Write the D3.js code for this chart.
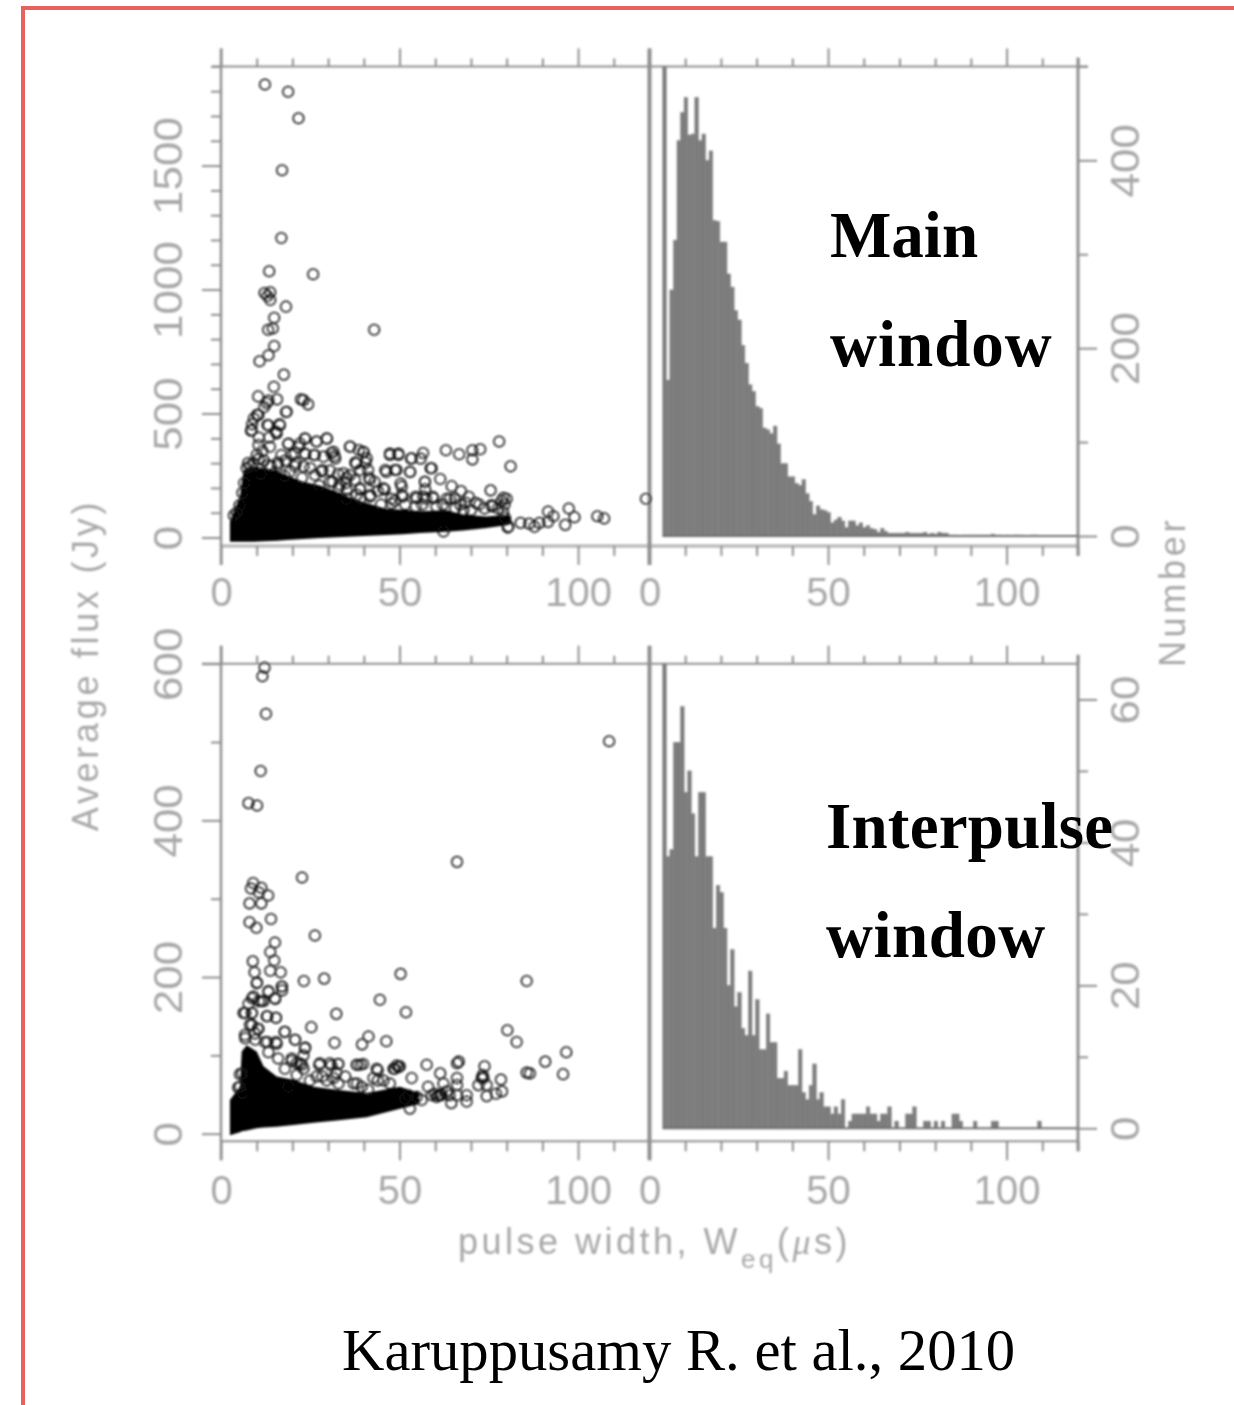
<!DOCTYPE html>
<html>
<head>
<meta charset="utf-8">
<script src="https://cdn.jsdelivr.net/npm/d3@7"></script>
<style>
html, body { margin: 0; padding: 0; background: #fff; }
svg { display: block; }
</style>
</head>
<body>
<svg id="chart" width="1234" height="1405"></svg>
<script>
// counts per 1 us bin, first bin starts at 3.7 us, first bar runs off the top
var binStart = 3.7;
var mainCounts = [500,166,262,315,421,451,467,427,428,467,421,428,400,410,336,335,313,313,279,265,240,230,203,184,161,154,138,136,115,113,109,117,98,77,77,63,63,56,54,60,45,37,23,32,28,27,25,14,17,20,16,9,16,16,11,14,9,11,8,7,4,8,5,3,3,3,3,3,4,3,3,3,3,4,2,3,2,4,3,3,1,1,1,0,1,1,1,1,1,1,1,1,2,1,1,0,1,0,1,1,1,0,0,1,1];
var interCounts = [65,38,39,54,54,59,47,50,44,38,47,47,38,38,28,34,33,28,20,25,17,19,14,13,22,13,18,11,11,16,12,12,7,7,8,6,6,6,11,5,4,6,9,4,5,3,3,2,3,2,4,0,1,2,2,2,2,3,2,2,1,2,2,3,0,1,0,0,2,2,3,0,0,1,1,0,1,0,1,0,0,2,2,1,0,0,0,1,0,0,0,0,1,1,0,0,0,0,0,0,0,0,0,0,0,1];

// solid part of the scatter where single rings cannot be told apart: [width, top, bottom]
var mainCore = [[2.5,64,-17],[5.3,165,-17],[6.3,270,-17],[9.1,285,-17],[12,280,-15],[15.6,268,-13],[18.4,250,-10],[23,225,-6],[27.7,210,-2],[32.4,185,1],[37,155,4],[41.7,135,7],[46.4,115,10],[51,112,13],[55.7,106,18],[63.2,110,23],[67.8,92,28],[74.4,85,38],[80.4,92,50],[81.4,70,60]];
var interCore = [[2.5,43,-2],[5.3,60,2],[5.8,105,3],[7.2,113,4],[10,105,7],[11.9,86,8],[15.6,73,9],[20.3,69,11],[25.9,60,14],[32.4,56,17],[40.8,52,21],[50.1,60,32],[55.5,52,38]];

// single pulses: [width us, flux Jy]
var mainPulses = [[12.3,1827],[18.8,1798],[21.7,1691],[17.1,1481],[16.9,1208],[13.5,1074],[25.8,1062],[12.2,986],[13.8,989],[13,974],[13.8,958],[18.2,931],[14.9,886],[13.2,838],[14.5,843],[42.9,838],[14.9,772],[13.3,735],[10.8,711],[17.6,657],[14.8,608],[10.4,569],[13.3,552],[12.1,526],[15.7,557],[12.8,542],[22.4,557],[23.1,554],[24.4,537],[18.2,506],[10.1,495],[9.2,480],[8.7,457],[8.4,431],[13,454],[16.4,457],[15.4,426],[10.6,403],[13.5,403],[23.6,398],[26.7,387],[29.7,398],[18.8,377],[21.7,364],[36.2,367],[38.6,353],[40,344],[30.9,341],[31.8,330],[47.3,333],[49.7,333],[53.2,318],[56.6,341],[55.9,318],[63,352],[66.7,336],[70.4,352],[72.6,356],[70.4,315],[77.9,387],[81.1,287],[59,279],[61.4,236],[64.6,207],[67.2,187],[69.4,164],[71.3,140],[75.5,190],[79.1,160],[79.4,133],[46.3,264],[49.2,272],[53,264],[50.3,218],[57.1,225],[57.2,194],[59.3,164],[45.8,194],[37.6,302],[40.5,302],[39,272],[41.5,241],[26,333],[23.6,336],[19.8,333],[16.9,333],[28.4,272],[32.8,256],[35.2,241],[11.6,349],[8.2,287],[10.6,318],[15.9,302],[20.7,287],[3.6,90],[83.9,59],[86.3,56],[87.8,43],[89.2,59],[91.6,105],[91.6,63],[93.1,86],[97.4,117],[99,82],[96.4,51],[105.4,86],[107.3,77],[119,156],[80.3,40],[79.6,79],[50.6,171],[54.5,164],[48.7,148],[39,194],[43.9,187],[35.2,194],[31.3,225],[27.5,210],[22.7,241],[64.1,156],[67,133],[73.8,117],[75.9,125],[70,110],[62.2,133],[56.4,133],[11.1,256],[17.8,248],[14,287],
	[8.6,433],[15.6,420],[18.4,507],[10.5,494],[13.3,453],[16.5,453],[13.7,366],[10.5,373],[10,333],[18.9,379],[23.5,400],[26.8,387],[29.6,400],[22.1,379],[23.5,339],[26.3,333],[20.7,339],[31.5,346],[32,319],[28.7,326],[36.1,366],[39.8,346],[37.9,299],[40.8,319],[41.2,272],[41.7,232],[37.5,232],[38.9,198],[47.3,339],[49.7,339],[46,272],[48.7,272],[53.4,319],[52.9,265],[50.6,205],[45.5,198],[23.1,286],[26.3,252],[28.2,266],[30.5,225],[33.3,212],[16,292],[13.2,292],[19.3,265],[7.2,280],[34.3,259],[36.1,252],[47.8,137],[51,165],[54.8,158],[41.7,165],[38,172],[58.7,279],[57.1,225],[65.5,158],[67.9,111],[59.5,158],[56.7,165],[79,104],[80.5,44],[62.3,24],[75.8,131],[9,300],[12,310],[7.6,300],[18,310],[25,280],[21,300],[30.5,270],[35,220],[43,225],[33,200],[6.5,220],[6,180],[5.2,130],[4.4,100],
	[44.8,133],[47.7,156],[51.6,133],[54.5,125],[57.4,156],[60.3,125],[63.2,156],[65.6,117],[68.5,140],[72.3,133],[77.6,117],[78.6,148],[80,156],[35.2,156],[39,156],[41.9,171]];
var interPulses = [[12.2,595],[11.6,584],[12.6,536],[108.7,501],[11.1,463],[7.7,422],[10.1,419],[66.1,347],[22.7,327],[9,320],[8.4,313],[11.3,314],[10.6,308],[13.2,304],[8,294],[11.3,294],[8,270],[9.9,263],[14,274],[26.3,253],[15.1,244],[13.8,232],[14.9,221],[8.9,220],[9.4,206],[13.8,208],[16.7,206],[10.1,193],[50.3,204],[23.2,195],[28.9,198],[85.6,195],[17.1,188],[17.1,183],[13.3,182],[15.2,172],[8.7,173],[11.3,169],[10.6,169],[7.7,166],[44.5,171],[6.8,154],[8.7,154],[13,150],[15.4,148],[32.3,153],[51.8,155],[8.7,139],[10.3,134],[25.3,136],[17.8,130],[80.2,132],[82.8,117],[41.3,124],[20.8,120],[31.8,116],[39.5,114],[46.3,118],[96.7,104],[90.8,92],[95.8,76],[85.6,78],[86.5,77],[23.6,110],[23.1,100],[13,117],[15.4,117],[6.8,122],[9.6,120],[43.9,81],[39,88],[38.1,88],[32.8,89],[30.9,87],[27.5,88],[22.7,88],[21.2,90],[49.7,85],[48.7,83],[43.9,68],[38.1,64],[32.3,78],[28.4,73],[19.8,93],[5.3,76],[4.8,59],[50.1,86],[57.6,88],[61.4,77],[66.1,90],[66.6,92],[53.4,71],[66.1,71],[62.3,64],[66.1,62],[68.8,49],[68.8,41],[64.5,39],[61.8,49],[59.9,51],[59,49],[63.2,54],[60.9,49],[60.4,47],[61.4,50],[52.9,32],[52.5,49],[51.5,45],[54.8,47],[56.2,43],[58,60],[64,49],[66.1,49],[73.8,86],[73.3,75],[73.5,71],[73,71],[72.1,62],[74.4,62],[78.4,69],[78.7,54],[77,51],[74.4,48],
	[10,192],[17,188],[13.3,181],[9.1,175],[11.9,169],[15.1,173],[6.3,154],[8.6,154],[12.8,150],[15.4,148],[8.1,139],[10.5,134],[17.9,130],[20.7,120],[23.5,109],[6.7,126],[9.5,128],[12.3,117],[15.6,115],[13.3,104],[19.8,96],[22.1,90],[27.7,90],[30.5,90],[32.9,89],[38,88],[39.8,89],[43.6,83],[48.3,83],[49.2,87],[26.8,73],[31.5,71],[34.8,73],[37.2,64],[42.7,71],[45.5,68],[47.3,64],[6,77],[6,52],[5.3,60],[18.9,60],[23.1,83],[16,96],[17.9,83],[21.2,75],[24.9,68],[29.6,68],[32.9,64],[39.4,60],[41.2,56]];

var widthTicksMajor = [0,50,100];
var widthTicksMinor = [10,20,30,40,60,70,80,90,110,120];
var mainFluxMajor = [0,500,1000,1500];
var mainFluxMinor = [100,200,300,400,600,700,800,900,1100,1200,1300,1400,1600,1700,1800,1900];
var interFluxMajor = [0,200,400,600];
var interFluxMinor = [100,300,500];
var mainNumMajor = [0,200,400];
var mainNumMinor = [100,300,500];
var interNumMajor = [0,20,40,60];
var interNumMinor = [10,30,50];

var svg = d3.select("#chart");
var defs = svg.append("defs");
defs.append("filter").attr("id", "soft").attr("x", "-5%").attr("y", "-5%").attr("width", "110%").attr("height", "110%")
	.append("feGaussianBlur").attr("stdDeviation", 0.85);
defs.append("filter").attr("id", "softer").attr("x", "-5%").attr("y", "-5%").attr("width", "110%").attr("height", "110%")
	.append("feGaussianBlur").attr("stdDeviation", 0.4);

var axisColor = "#8f8f8f", labelColor = "#a8a8a8", sans = "'Liberation Sans', sans-serif", serif = "'Liberation Serif', serif";

svg.append("rect").attr("width", 1234).attr("height", 1405).attr("fill", "#fff");
svg.append("path").attr("d", "M23,1405V8H1234").attr("fill", "none").attr("stroke", "#e8615d").attr("stroke-width", 4);

var plot = svg.append("g").attr("filter", "url(#soft)");

var xLeft = d3.scaleLinear().domain([0, 120]).range([221, 649.5]);
var xRight = d3.scaleLinear().domain([0, 120]).range([649.5, 1078]);

function tickLayer(axis, x, y, values, size, format) {
	var g = plot.append("g").attr("transform", "translate(" + x + "," + y + ")")
		.call(axis.tickValues(values).tickSize(size).tickSizeOuter(0).tickFormat(format || (function () { return ""; })));
	g.select(".domain").remove();
	g.selectAll("line").attr("stroke", axisColor).attr("stroke-width", 2);
	g.selectAll("text").attr("fill", labelColor).attr("font-family", sans).attr("font-size", 40);
	return g;
}

function xTicks(scale, top, bottom, labelY) {
	tickLayer(d3.axisTop(scale), 0, top, widthTicksMajor, 18);
	tickLayer(d3.axisTop(scale), 0, top, widthTicksMinor, 8);
	var g = tickLayer(d3.axisBottom(scale), 0, bottom, widthTicksMajor, 19, d3.format("d"));
	g.selectAll("text").attr("y", labelY).attr("dy", 0);
	tickLayer(d3.axisBottom(scale), 0, bottom, widthTicksMinor, 10);
}

function yTicks(makeAxis, x, major, minor, labelX) {
	var g = tickLayer(makeAxis(), x, 0, major, 19, d3.format("d"));
	// the rotated numbers are stretched along their length in the source
	g.selectAll("text").attr("x", 0).attr("y", 0).attr("dy", 0).attr("text-anchor", "middle")
		.attr("transform", "translate(" + labelX + ",0) rotate(-90) scale(1.1,1)");
	tickLayer(makeAxis(), x, 0, minor, 10);
}

function drawPanel(p) {
	var yFlux = d3.scaleLinear().domain(p.fluxDomain).range([p.zeroFlux, p.top]);
	var yNum = d3.scaleLinear().domain(p.numDomain).range([p.zeroNum, p.top]);

	// frame
	plot.append("line").attr("x1", p.frameLeft).attr("x2", p.frameRight).attr("y1", p.top).attr("y2", p.top)
		.attr("stroke", axisColor).attr("stroke-width", 2);
	plot.append("line").attr("x1", 221).attr("x2", 1078).attr("y1", p.bottom).attr("y2", p.bottom)
		.attr("stroke", axisColor).attr("stroke-width", p.bottomWidth).attr("opacity", p.bottomOpacity);
	plot.append("line").attr("x1", 221).attr("x2", 221).attr("y1", p.top - 18).attr("y2", p.bottom + 19)
		.attr("stroke", axisColor).attr("stroke-width", 2.5);
	plot.append("line").attr("x1", 649.5).attr("x2", 649.5).attr("y1", p.top - 18).attr("y2", p.bottom + 19)
		.attr("stroke", axisColor).attr("stroke-width", 4);
	plot.append("line").attr("x1", 1078).attr("x2", 1078).attr("y1", p.top - 9).attr("y2", p.bottom + 10)
		.attr("stroke", axisColor).attr("stroke-width", 3);

	// histogram
	var bins = p.counts.map(function (c, i) { return { x0: binStart + i, x1: binStart + i + 1, n: c }; });
	plot.append("g").selectAll("rect").data(bins).join("rect")
		.attr("x", function (d) { return xRight(d.x0); })
		.attr("width", function (d) { return xRight(d.x1) - xRight(d.x0); })
		.attr("y", function (d) { return yNum(d.n); })
		.attr("height", function (d) { return yNum(0) - yNum(d.n); })
		.attr("fill", "#7a7a7a")
		.attr("stroke", "#838383").attr("stroke-width", 0.5);
	plot.append("line").attr("x1", xRight(binStart)).attr("x2", 1078).attr("y1", yNum(0)).attr("y2", yNum(0))
		.attr("stroke", "#707070").attr("stroke-width", 2);

	// scatter
	var core = d3.area()
		.x(function (d) { return xLeft(d[0]); })
		.y0(function (d) { return yFlux(d[2]); })
		.y1(function (d) { return yFlux(d[1]); });
	plot.append("path").datum(p.core).attr("d", core).attr("fill", "#000");
	plot.append("g").selectAll("circle").data(p.pulses).join("circle")
		.attr("cx", function (d) { return xLeft(d[0]); })
		.attr("cy", function (d) { return yFlux(d[1]); })
		.attr("r", 5.3)
		.attr("fill", "none").attr("stroke", "#111").attr("stroke-width", 1.5);

	xTicks(xLeft, p.top, p.bottom, p.labelY);
	xTicks(xRight, p.top, p.bottom, p.labelY);
	yTicks(function () { return d3.axisLeft(yFlux); }, 221, p.fluxMajor, p.fluxMinor, -39);
	yTicks(function () { return d3.axisRight(yNum); }, 1078, p.numMajor, p.numMinor, 61);
}

drawPanel({
	top: 66.4, bottom: 545.9, zeroFlux: 537.5, zeroNum: 536, labelY: 60,
	fluxDomain: [0, 1900], numDomain: [0, 500],
	frameLeft: 212, frameRight: 1088, bottomWidth: 3.5, bottomOpacity: 0.6,
	counts: mainCounts, core: mainCore, pulses: mainPulses,
	fluxMajor: mainFluxMajor, fluxMinor: mainFluxMinor, numMajor: mainNumMajor, numMinor: mainNumMinor
});
drawPanel({
	top: 663.7, bottom: 1141.3, zeroFlux: 1133.7, zeroNum: 1128.3, labelY: 63,
	fluxDomain: [0, 600], numDomain: [0, 65],
	frameLeft: 202, frameRight: 1078, bottomWidth: 2, bottomOpacity: 1,
	counts: interCounts, core: interCore, pulses: interPulses,
	fluxMajor: interFluxMajor, fluxMinor: interFluxMinor, numMajor: interNumMajor, numMinor: interNumMinor
});

// axis titles
function title(str, x, y, rot) {
	return plot.append("text").attr("transform", "translate(" + x + "," + y + ") rotate(" + rot + ")")
		.attr("text-anchor", "middle").attr("font-family", sans).attr("font-size", 36)
		.attr("letter-spacing", 3.7).attr("fill", labelColor).text(str);
}
title("Average flux (Jy)", 98, 665, -90);
title("Number", 1185, 592, -90);

var wTitle = plot.append("text").attr("x", 458).attr("y", 1254).attr("font-family", sans).attr("font-size", 36)
	.attr("letter-spacing", 3.5).attr("fill", labelColor);
wTitle.append("tspan").text("pulse width, W");
wTitle.append("tspan").attr("dy", 14).attr("font-size", 26).text("eq");
wTitle.append("tspan").attr("dy", -14).text("(");
wTitle.append("tspan").attr("font-style", "italic").attr("font-family", serif).text("\u03bc");
wTitle.append("tspan").text("s)");

// annotations pasted over the figure
var notes = svg.append("g").attr("filter", "url(#softer)").attr("font-family", serif).attr("fill", "#000");
function note(str, x, y, size, weight, spacing) {
	notes.append("text").attr("x", x).attr("y", y).attr("font-size", size).attr("font-weight", weight)
		.attr("letter-spacing", spacing).text(str);
}
note("Main", 830, 257, 65, "bold", 0);
note("window", 830, 366, 65, "bold", 1);
note("Interpulse", 826, 848, 65, "bold", 0.2);
note("window", 826, 957, 65, "bold", 0.5);
note("Karuppusamy R. et al., 2010", 342, 1370, 58.7, "normal", 0);
</script>
</body>
</html>
